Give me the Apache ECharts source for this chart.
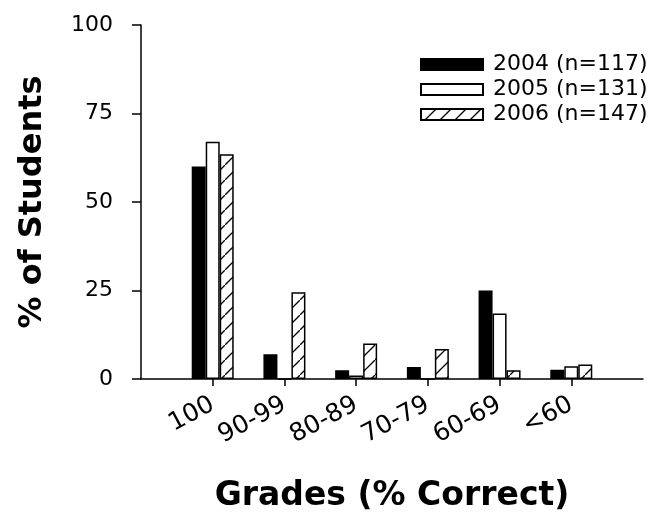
<!DOCTYPE html>
<html>
<head>
<meta charset="utf-8">
<script src="https://cdn.jsdelivr.net/npm/echarts@6/dist/echarts.min.js"></script>
<style>html,body{margin:0;padding:0;background:#fff;}#chart{width:671px;height:518px;}</style>
</head>
<body>
<div id="chart"></div>
<script>
var categories = ['100', '90-99', '80-89', '70-79', '60-69', '<60'];
var seriesNames = ['2004 (n=117)', '2005 (n=131)', '2006 (n=147)'];
var values2004 = [60, 7, 2.5, 3.4, 25, 2.6];
var values2005 = [67, 0, 1, 0, 18.5, 3.6];
var values2006 = [63.5, 24.5, 10, 8.5, 2.5, 4.1];
var yTicks = [0, 25, 50, 75, 100];

// padded category list so that the axis line extends past the outer groups
var axisCats = [''].concat(categories).concat(['']);
function pad(arr) { return [null].concat(arr).concat([null]); }

// hatch pattern
var T = 15;
var pc = document.createElement('canvas');
pc.width = T; pc.height = T;
var ctx = pc.getContext('2d');
ctx.fillStyle = '#fff'; ctx.fillRect(0, 0, T, T);
ctx.strokeStyle = '#000'; ctx.lineWidth = 1.3;
ctx.beginPath();
ctx.moveTo(-1, T + 1); ctx.lineTo(T + 1, -1);
ctx.stroke();

var font = 'DejaVu Sans';
var chart = echarts.init(document.getElementById('chart'));
var common = { type: 'bar', barWidth: 14, barGap: '0%', animation: false };
chart.setOption({
  animation: false,
  grid: { left: 141, right: 28, top: 25, bottom: 139, containLabel: false },
  legend: {
    left: 420, top: 52, orient: 'vertical', padding: 0, icon: 'rect',
    itemWidth: 62, itemHeight: 11, itemGap: 0,
    textStyle: { fontFamily: font, fontSize: 22, color: '#000', lineHeight: 25, padding: [0, 0, 0, 5] },
    data: seriesNames
  },
  xAxis: {
    type: 'category', data: axisCats, boundaryGap: false,
    name: 'Grades (% Correct)', nameLocation: 'middle', nameGap: 101,
    nameTextStyle: { fontFamily: font, fontWeight: 'bold', fontSize: 33, color: '#000' },
    axisLine: { lineStyle: { color: '#000', width: 1.5 } },
    axisTick: { length: 7, lineStyle: { color: '#000', width: 1.5 },
      interval: function (i) { return i > 0 && i < axisCats.length - 1; } },
    axisLabel: { interval: 0, rotate: 28, margin: 24, fontFamily: font, fontSize: 25, color: '#000' },
    splitLine: { show: false }
  },
  yAxis: {
    type: 'value', min: yTicks[0], max: yTicks[yTicks.length - 1], interval: 25,
    name: '% of Students', nameLocation: 'middle', nameGap: 92,
    nameTextStyle: { fontFamily: font, fontWeight: 'bold', fontSize: 32, color: '#000' },
    axisLine: { show: true, lineStyle: { color: '#000', width: 1.5 } },
    axisTick: { show: true, length: 9, lineStyle: { color: '#000', width: 1.5 } },
    axisLabel: { margin: 28, fontFamily: font, fontSize: 22, color: '#000' },
    splitLine: { show: false }
  },
  series: [
    Object.assign({}, common, { name: seriesNames[0], data: pad(values2004),
      itemStyle: { color: '#000', borderColor: '#000', borderWidth: 1.5 } }),
    Object.assign({}, common, { name: seriesNames[1], data: pad(values2005),
      itemStyle: { color: '#fff', borderColor: '#000', borderWidth: 1.5 } }),
    Object.assign({}, common, { name: seriesNames[2], data: pad(values2006),
      itemStyle: { color: { image: pc, repeat: 'repeat' }, borderColor: '#000', borderWidth: 1.5 } })
  ]
});
</script>
</body>
</html>
